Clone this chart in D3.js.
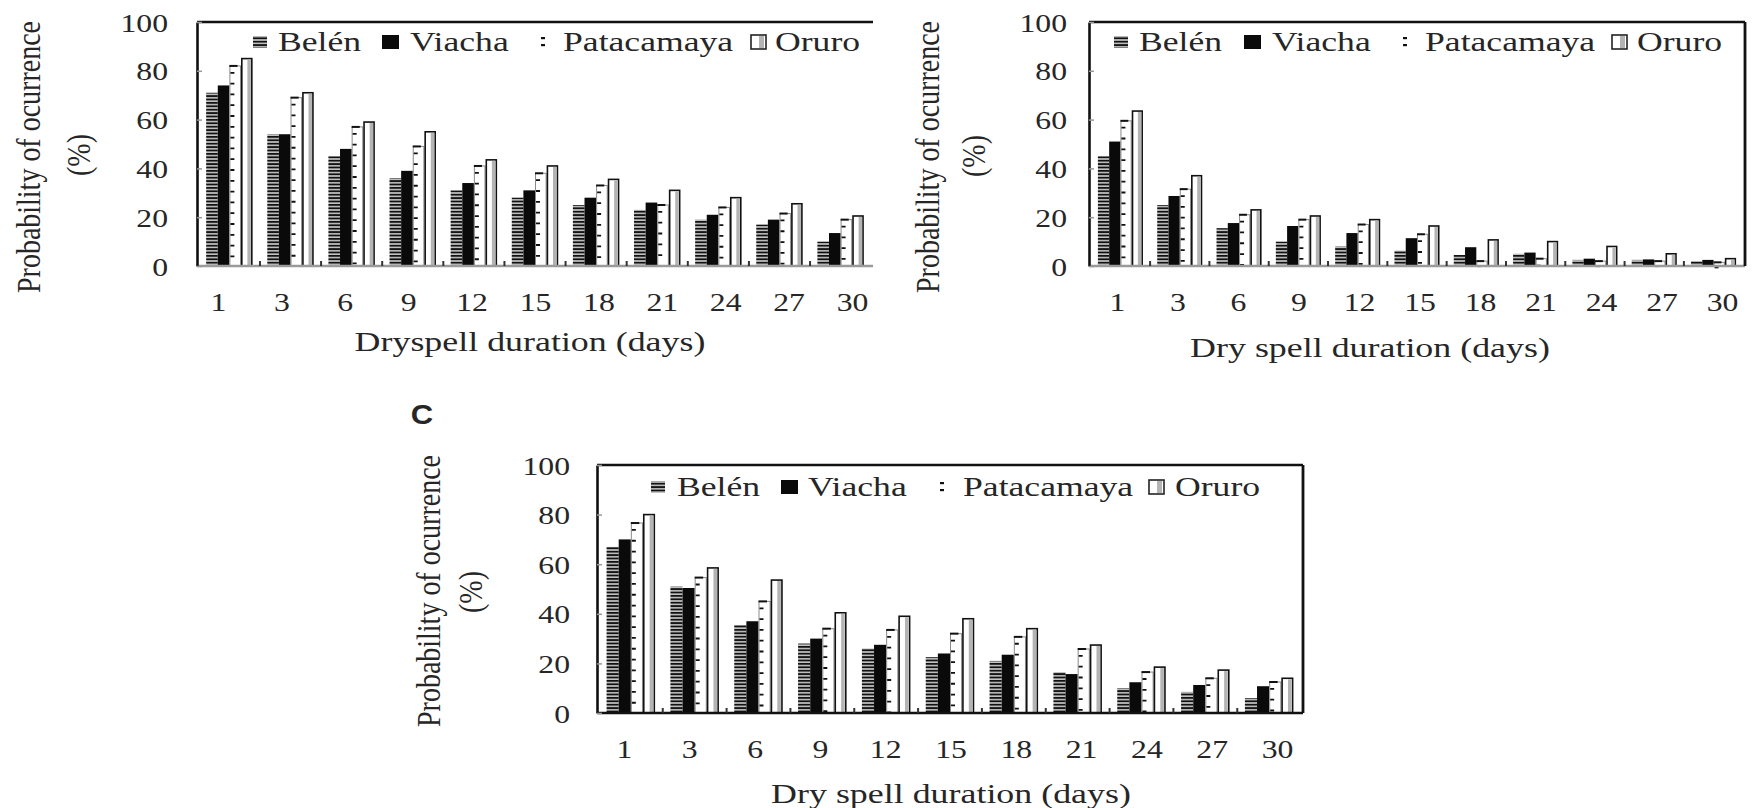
<!DOCTYPE html>
<html>
<head>
<meta charset="utf-8">
<script src="https://cdn.jsdelivr.net/npm/d3@7"></script>
<style>
  body { margin: 0; background: #fff; }
  svg { display: block; }
</style>
</head>
<body>
<svg id="chart" width="1759" height="808"></svg>
<script>
// ---------------- DATA ----------------
const categories = ["1", "3", "6", "9", "12", "15", "18", "21", "24", "27", "30"];
const seriesNames = ["Belén", "Viacha", "Patacamaya", "Oruro"];
const yTicks = [0, 20, 40, 60, 80, 100];

// Panel A
const belenA      = [71, 54, 45, 36, 31, 28, 25, 23, 19, 17, 10];
const viachaA     = [74, 54, 48, 39, 34, 31, 28, 26, 21, 19, 13.5];
const patacamayaA = [82, 69, 57, 49, 41, 38, 33, 25, 24, 21.5, 19];
const oruroA      = [85, 71, 59, 55, 43.5, 41, 35.5, 31, 28, 25.5, 20.5];

// Panel B
const belenB      = [45, 25, 15.5, 10, 8, 6.3, 4.5, 5, 2.5, 2.5, 2];
const viachaB     = [51, 28.7, 17.6, 16.4, 13.5, 11.4, 7.7, 5.5, 3, 2.7, 2.5];
const patacamayaB = [59.5, 31.5, 21, 19, 17, 13, 2, 3, 2, 2, 1.5];
const oruroB      = [63.5, 37, 23, 20.5, 19, 16.4, 10.7, 10, 8, 5, 3];

// Panel C
const belenC      = [67, 51, 35.5, 28, 26, 22.5, 21, 16.5, 10, 8.5, 6];
const viachaC     = [70, 50.4, 37, 30, 27.5, 24, 23.5, 15.7, 12.4, 11.3, 10.8];
const patacamayaC = [76.6, 54.6, 45, 34, 33.5, 32, 30.7, 25.8, 16.5, 14, 12.5];
const oruroC      = [80, 58.5, 53.6, 40.4, 39, 38, 34, 27.4, 18.5, 17.3, 14];

// Text
const yTitle = "Probability of ocurrence";
const yTitle2 = "(%)";
const xTitleA = "Dryspell duration (days)";
const xTitleB = "Dry spell duration (days)";
const xTitleC = "Dry spell duration (days)";

// ---------------- LAYOUT ----------------
const panels = [
  { series: [belenA, viachaA, patacamayaA, oruroA],
    left: 197, right: 873, top: 22, bottom: 266, rightBorder: false, bottomColor: "#9a9a9a",
    labelRange: [218, 852], tickPad: 29,
    legendSw: [253, 382, 541, 751], legendTx: [278, 410, 563, 775], legendY: 42,
    xTitle: xTitleA, xTitleX: 530, xTitleY: 342,
    yTitleX: 28, yTitleY: 157, yPctX: 78, yPctY: 155 },
  { series: [belenB, viachaB, patacamayaB, oruroB],
    left: 1089, right: 1745, top: 22, bottom: 266, rightBorder: true, bottomColor: "#9a9a9a",
    labelRange: [1117, 1722], tickPad: 22,
    legendSw: [1114, 1244, 1403, 1612], legendTx: [1139, 1272, 1425, 1637], legendY: 42,
    xTitle: xTitleB, xTitleX: 1370, xTitleY: 348,
    yTitleX: 927, yTitleY: 157, yPctX: 973, yPctY: 156 },
  { series: [belenC, viachaC, patacamayaC, oruroC],
    left: 597, right: 1303, top: 465, bottom: 713, rightBorder: true, bottomColor: "#111",
    labelRange: [624, 1277], tickPad: 27,
    legendSw: [651, 781, 940, 1149], legendTx: [677, 808, 963, 1175], legendY: 487,
    xTitle: xTitleC, xTitleX: 951, xTitleY: 794,
    yTitleX: 428, yTitleY: 591, yPctX: 470, yPctY: 592 }
];

const SERIF = "'Liberation Serif', 'Times New Roman', serif";
const TXT = "#262626";

const svg = d3.select("#chart");
svg.append("rect").attr("width", 1759).attr("height", 808).attr("fill", "#fff");

// patterns
const defs = svg.append("defs");
const stripes = defs.append("pattern").attr("id", "stripes")
  .attr("patternUnits", "userSpaceOnUse").attr("width", 6).attr("height", 3.4);
stripes.append("rect").attr("width", 6).attr("height", 3.4).attr("fill", "#c4c4c4");
stripes.append("rect").attr("width", 6).attr("height", 1.8).attr("fill", "#111");

function stretchedText(g, x, y, text, size, sx, anchor, family) {
  return g.append("text")
    .attr("transform", `translate(${x},${y}) scale(${sx},1)`)
    .attr("text-anchor", anchor)
    .attr("dy", "0.35em")
    .attr("font-family", family || SERIF)
    .attr("font-size", size)
    .attr("fill", TXT)
    .text(text);
}

function drawPanel(p) {
  const g = svg.append("g");
  const x = d3.scaleBand().domain(categories).range([p.left, p.right])
    .paddingInner(0.24).paddingOuter(0.15);
  const xs = d3.scaleBand().domain(seriesNames).range([0, x.bandwidth()]);
  const y = d3.scaleLinear().domain([0, 100]).range([p.bottom, p.top]);
  const bw = xs.bandwidth();
  const [belen, viacha, pata, oruro] = p.series;

  // Belén - horizontal stripes
  g.append("g").selectAll("rect").data(categories).join("rect")
    .attr("x", c => x(c) + xs("Belén"))
    .attr("y", (c, i) => y(belen[i]))
    .attr("width", bw)
    .attr("height", (c, i) => y(0) - y(belen[i]))
    .attr("fill", "url(#stripes)");

  // Viacha - solid black
  g.append("g").selectAll("rect").data(categories).join("rect")
    .attr("x", c => x(c) + xs("Viacha"))
    .attr("y", (c, i) => y(viacha[i]))
    .attr("width", bw)
    .attr("height", (c, i) => y(0) - y(viacha[i]))
    .attr("fill", "#0a0a0a");

  // Patacamaya - white with dashed column
  const pg = g.append("g");
  pg.selectAll("rect").data(categories).join("rect")
    .attr("x", c => x(c) + xs("Patacamaya") + 0.5)
    .attr("y", (c, i) => y(pata[i]))
    .attr("width", bw - 1)
    .attr("height", (c, i) => y(0) - y(pata[i]))
    .attr("fill", "#fff").attr("stroke", "#8a8a8a").attr("stroke-width", 1);
  pg.selectAll("line.top").data(categories).join("line").attr("class", "top")
    .attr("x1", c => x(c) + xs("Patacamaya"))
    .attr("x2", c => x(c) + xs("Patacamaya") + bw * 0.7)
    .attr("y1", (c, i) => y(pata[i]))
    .attr("y2", (c, i) => y(pata[i]))
    .attr("stroke", "#111").attr("stroke-width", 2);
  pg.selectAll("line.dash").data(categories).join("line").attr("class", "dash")
    .attr("x1", c => x(c) + xs("Patacamaya") + 3)
    .attr("x2", c => x(c) + xs("Patacamaya") + 3)
    .attr("y1", (c, i) => y(pata[i]) + 6)
    .attr("y2", y(0))
    .attr("stroke", "#111").attr("stroke-width", 4).attr("stroke-dasharray", "1.8 9");

  // Oruro - white with black outline and grey right part
  const og = g.append("g");
  og.selectAll("rect.o").data(categories).join("rect").attr("class", "o")
    .attr("x", c => x(c) + xs("Oruro") + 0.8)
    .attr("y", (c, i) => y(oruro[i]))
    .attr("width", bw - 1.6)
    .attr("height", (c, i) => y(0) - y(oruro[i]))
    .attr("fill", "#fff").attr("stroke", "#111").attr("stroke-width", 1.6);
  og.selectAll("rect.s").data(categories).join("rect").attr("class", "s")
    .attr("x", c => x(c) + xs("Oruro") + bw * 0.55)
    .attr("y", (c, i) => y(oruro[i]) + 1)
    .attr("width", bw * 0.3)
    .attr("height", (c, i) => Math.max(0, y(0) - y(oruro[i]) - 2))
    .attr("fill", "#b4b4b4");

  // baseline and gap ticks
  g.append("line").attr("x1", p.left).attr("x2", p.right)
    .attr("y1", p.bottom).attr("y2", p.bottom)
    .attr("stroke", p.bottomColor).attr("stroke-width", 2.4);
  g.append("g").selectAll("line").data(categories.slice(1)).join("line")
    .attr("x1", c => x(c) - x.step() * 0.12)
    .attr("x2", c => x(c) - x.step() * 0.12)
    .attr("y1", p.bottom).attr("y2", p.bottom - 5)
    .attr("stroke", "#333").attr("stroke-width", 2);

  // frame: top, right
  g.append("line").attr("x1", p.left).attr("x2", p.right)
    .attr("y1", p.top).attr("y2", p.top)
    .attr("stroke", "#111").attr("stroke-width", 2.6);
  if (p.rightBorder) {
    g.append("line").attr("x1", p.right).attr("x2", p.right)
      .attr("y1", p.top).attr("y2", p.bottom)
      .attr("stroke", "#111").attr("stroke-width", 2.8);
  }

  // y axis
  const yAxis = g.append("g").attr("transform", `translate(${p.left},0)`)
    .call(d3.axisLeft(y).tickValues(yTicks).tickSizeInner(-5).tickSizeOuter(0).tickPadding(p.tickPad));
  yAxis.select(".domain").attr("stroke", "#111").attr("stroke-width", 2.6);
  yAxis.selectAll(".tick line").attr("stroke", "#999").attr("stroke-width", 1.5);
  yAxis.selectAll(".tick text")
    .attr("x", null).attr("dy", "0.35em")
    .attr("transform", `translate(${-p.tickPad},0) scale(1.22,1)`)
    .attr("font-family", SERIF).attr("font-size", 26).attr("fill", TXT);

  // x axis labels
  const xl = d3.scalePoint().domain(categories).range(p.labelRange);
  const xAxis = g.append("g").attr("transform", `translate(0,${p.bottom})`)
    .call(d3.axisBottom(xl).tickSize(0));
  xAxis.select(".domain").remove();
  xAxis.selectAll(".tick text")
    .attr("y", null).attr("dy", "0.35em")
    .attr("transform", `translate(0,36) scale(1.22,1)`)
    .attr("font-family", SERIF).attr("font-size", 26).attr("fill", TXT);

  // legend
  const lg = g.append("g");
  const ly = p.legendY;
  lg.append("rect").attr("x", p.legendSw[0]).attr("y", ly - 6).attr("width", 14).attr("height", 12)
    .attr("fill", "url(#stripes)");
  lg.append("rect").attr("x", p.legendSw[1]).attr("y", ly - 7).attr("width", 17).attr("height", 14)
    .attr("fill", "#0a0a0a");
  lg.append("rect").attr("x", p.legendSw[2]).attr("y", ly - 5).attr("width", 4).attr("height", 2.2).attr("fill", "#111");
  lg.append("rect").attr("x", p.legendSw[2]).attr("y", ly + 2).attr("width", 4).attr("height", 2.2).attr("fill", "#111");
  lg.append("rect").attr("x", p.legendSw[3]).attr("y", ly - 7).attr("width", 15).attr("height", 14)
    .attr("fill", "#fff").attr("stroke", "#222").attr("stroke-width", 1.6);
  lg.append("rect").attr("x", p.legendSw[3] + 8).attr("y", ly - 6).attr("width", 5).attr("height", 12)
    .attr("fill", "#b4b4b4");
  seriesNames.forEach((s, i) => stretchedText(lg, p.legendTx[i], ly, s, 27, 1.32, "start"));

  // axis titles
  stretchedText(g, p.xTitleX, p.xTitleY, p.xTitle, 27, 1.33, "middle");
  g.append("text")
    .attr("transform", `translate(${p.yTitleX},${p.yTitleY}) rotate(-90) scale(1,1.2)`)
    .attr("text-anchor", "middle").attr("dy", "0.35em")
    .attr("font-family", SERIF).attr("font-size", 28).attr("fill", TXT)
    .text(yTitle);
  g.append("text")
    .attr("transform", `translate(${p.yPctX},${p.yPctY}) rotate(-90) scale(1,1.2)`)
    .attr("text-anchor", "middle").attr("dy", "0.35em")
    .attr("font-family", SERIF).attr("font-size", 28).attr("fill", TXT)
    .text(yTitle2);
}

panels.forEach(drawPanel);

// panel letter
stretchedText(svg, 422, 415, "C", 27, 1.15, "middle", "'Liberation Sans', Arial, sans-serif")
  .attr("font-weight", "bold");
</script>
</body>
</html>
